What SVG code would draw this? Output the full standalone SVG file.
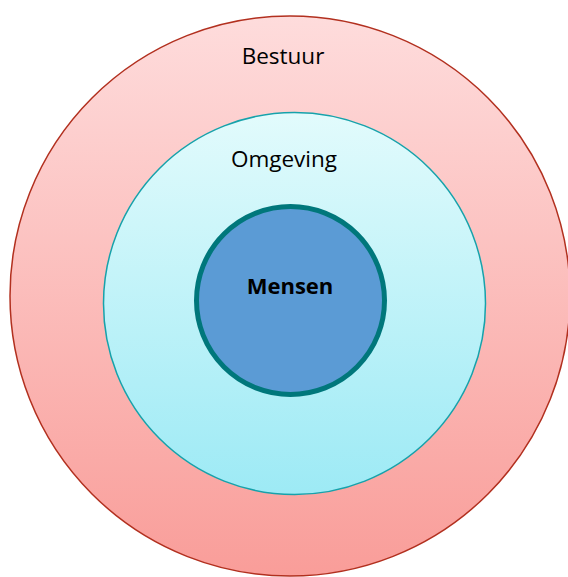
<svg xmlns="http://www.w3.org/2000/svg" width="568" height="577" viewBox="0 0 568 577">
<defs>
<linearGradient id="gOuter" x1="0" y1="0" x2="0" y2="1">
<stop offset="0" stop-color="#fedcdc"/>
<stop offset="1" stop-color="#f99d99"/>
</linearGradient>
<linearGradient id="gMid" x1="0" y1="0" x2="0" y2="1">
<stop offset="0" stop-color="#e2fbfc"/>
<stop offset="1" stop-color="#9deaf5"/>
</linearGradient>
<style>
text { font-family: "Open Sans", "Liberation Sans", sans-serif; fill: #000; text-anchor: middle; }
.lbl { font-size: 22.5px; }
.bold { font-size: 22px; font-weight: bold; }
</style>
</defs>
<rect width="568" height="577" fill="#ffffff"/>
<g id="bestuur">
<circle cx="290" cy="296" r="280" fill="url(#gOuter)" stroke="#b2301f" stroke-width="1.5"/>
<text class="lbl" x="283" y="64">Bestuur</text>
</g>
<g id="omgeving">
<circle cx="294.5" cy="303.5" r="191" fill="url(#gMid)" stroke="#16a2ab" stroke-width="1.5"/>
<text class="lbl" x="284" y="167">Omgeving</text>
</g>
<g id="mensen">
<circle cx="290.5" cy="300.5" r="94" fill="#5b9bd5" stroke="#00777b" stroke-width="5"/>
<text class="bold" x="290" y="294">Mensen</text>
</g>
<g id="connectors"/>
</svg>
